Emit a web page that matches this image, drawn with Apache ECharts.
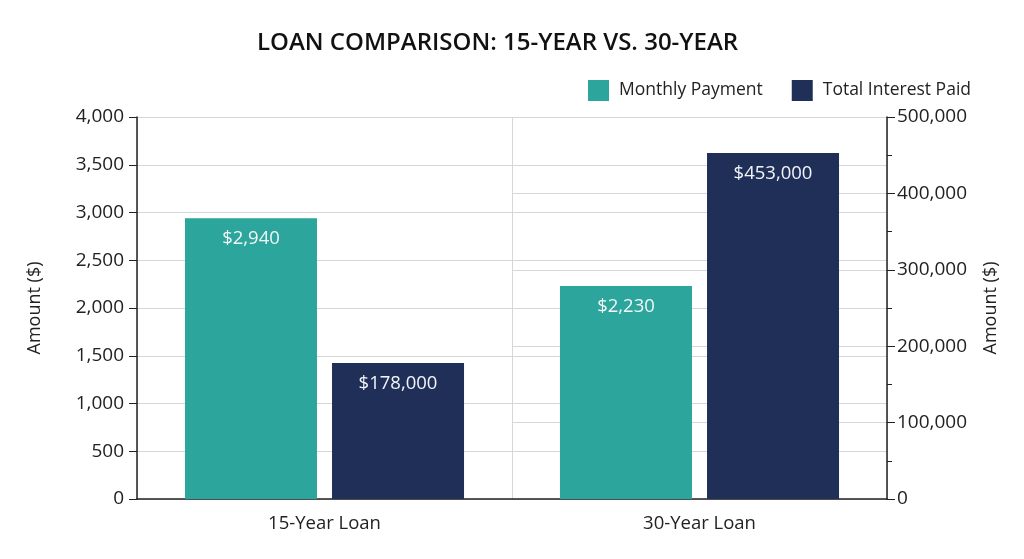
<!DOCTYPE html>
<html>
<head>
<meta charset="utf-8">
<script src="https://cdn.jsdelivr.net/npm/echarts@6/dist/echarts.min.js"></script>
<style>
  html, body { margin: 0; padding: 0; background: #fff; }
  #main { width: 1024px; height: 559px; }
</style>
</head>
<body>
<div id="main"></div>
<script>
var categories = ['15-Year Loan', '30-Year Loan'];
var monthlyPayment = [2940, 2230];
var totalInterest = [178000, 453000];
var leftTicks = { min: 0, max: 4000, interval: 500 };
var rightTicks = { min: 0, max: 500000, interval: 100000 };

var myChart = echarts.init(document.getElementById('main'));
var font = '"Open Sans", "Noto Sans", sans-serif';
var money = function (p) {
    return '$' + p.value.toLocaleString('en-US');
};

var option = {
    backgroundColor: '#fff',
    textStyle: { fontFamily: font },
    color: ['#2ca59c', '#1f2f58'],
    title: {
        text: 'LOAN COMPARISON: 15-YEAR VS. 30-YEAR',
        left: 252,
        top: 26,
        textStyle: { fontFamily: font, fontSize: 24, fontWeight: 600, color: '#111' }
    },
    legend: {
        right: 48,
        top: 75,
        itemWidth: 21,
        itemHeight: 21,
        itemGap: 29,
        icon: 'rect',
        textStyle: { fontFamily: font, fontSize: 17.5, color: '#222', padding: [0, 0, 0, 5] },
        data: ['Monthly Payment', 'Total Interest Paid']
    },
    grid: [
        { left: 137, right: 137, top: 117, bottom: 60 },
        // only the right half carries the right-axis grid lines
        { left: 512, right: 137, top: 117, bottom: 60 }
    ],
    xAxis: [
        {
            type: 'category',
            gridIndex: 0,
            data: categories,
            axisLine: { lineStyle: { color: '#222', width: 1.5 } },
            axisTick: { show: false },
            axisLabel: { fontSize: 18.5, color: '#222', margin: 15, fontFamily: font },
            splitLine: { show: true, lineStyle: { color: '#d6d6d6' } }
        },
        { type: 'value', gridIndex: 1, show: false }
    ],
    yAxis: [
        {
            type: 'value',
            gridIndex: 0,
            min: leftTicks.min,
            max: leftTicks.max,
            interval: leftTicks.interval,
            name: 'Amount ($)',
            nameLocation: 'middle',
            nameGap: 93,
            nameTextStyle: { fontSize: 18, color: '#222', fontFamily: font },
            axisLine: { show: true, lineStyle: { color: '#222', width: 1.5 } },
            axisTick: { show: true, length: 8, lineStyle: { color: '#222' } },
            axisLabel: {
                fontSize: 19, color: '#222', margin: 13, fontFamily: font,
                formatter: function (v) { return v.toLocaleString('en-US'); }
            },
            splitLine: { show: true, lineStyle: { color: '#d6d6d6' } }
        },
        {
            type: 'value',
            gridIndex: 0,
            position: 'right',
            min: rightTicks.min,
            max: rightTicks.max,
            interval: rightTicks.interval,
            name: 'Amount ($)',
            nameLocation: 'middle',
            nameGap: 95,
            nameTextStyle: { fontSize: 18, color: '#222', fontFamily: font },
            axisLine: { show: true, lineStyle: { color: '#222', width: 1.5 } },
            axisTick: { show: true, length: 8, lineStyle: { color: '#222' } },
            minorTick: { show: true, splitNumber: 2, length: 5, lineStyle: { color: '#222' } },
            axisLabel: {
                fontSize: 19, color: '#222', margin: 10, fontFamily: font,
                formatter: function (v) { return v.toLocaleString('en-US'); }
            },
            splitLine: { show: false }
        },
        {
            type: 'value',
            gridIndex: 1,
            min: rightTicks.min,
            max: rightTicks.max,
            interval: rightTicks.interval,
            axisLine: { show: false },
            axisTick: { show: false },
            axisLabel: { show: false },
            splitLine: { show: true, lineStyle: { color: '#d6d6d6' } }
        }
    ],
    series: [
        {
            name: 'Monthly Payment',
            type: 'bar',
            xAxisIndex: 0,
            yAxisIndex: 0,
            barWidth: 132,
            barGap: '11.4%',
            data: monthlyPayment,
            label: {
                show: true, position: 'insideTop', distance: 11,
                color: '#f2f7f7', fontSize: 18.5, fontFamily: font,
                formatter: money
            }
        },
        {
            name: 'Total Interest Paid',
            type: 'bar',
            xAxisIndex: 0,
            yAxisIndex: 1,
            barWidth: 132,
            barGap: '11.4%',
            data: totalInterest,
            label: {
                show: true, position: 'insideTop', distance: 11,
                color: '#f2f4f8', fontSize: 18.5, fontFamily: font,
                formatter: money
            }
        }
    ]
};

myChart.setOption(option);
</script>
</body>
</html>
